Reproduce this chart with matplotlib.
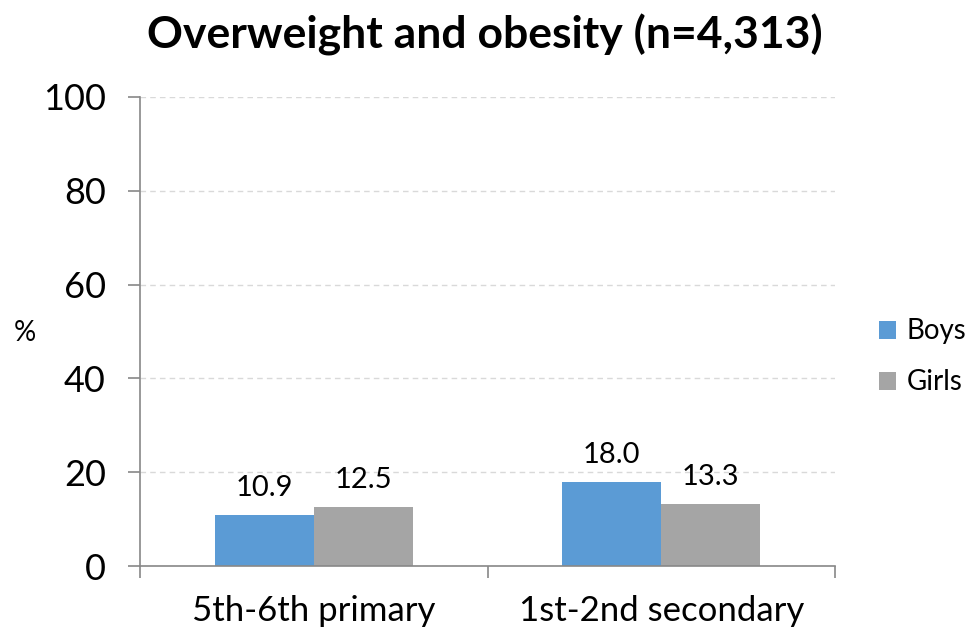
import matplotlib
matplotlib.use("Agg")
import matplotlib.pyplot as plt
import numpy as np

categories = ["5th-6th primary", "1st-2nd secondary"]
boys = [10.9, 18.0]
girls = [12.5, 13.3]
series_names = ["Boys", "Girls"]
yticks = [0, 20, 40, 60, 80, 100]

BLUE = "#5b9bd5"
GREY = "#a5a5a5"

plt.rcParams["font.family"] = ["Lato", "DejaVu Sans"]

fig = plt.figure(figsize=(9.69, 6.31), dpi=100)
ax = fig.add_axes([0.1445, 0.103, 0.7172, 0.7433])

x = np.arange(len(categories))
w = 0.285
b1 = ax.bar(x - w / 2, boys, w, color=BLUE, label=series_names[0])
b2 = ax.bar(x + w / 2, girls, w, color=GREY, label=series_names[1])

for bars, vals in ((b1, boys), (b2, girls)):
    for r, v in zip(bars, vals):
        ax.annotate(f"{v:.1f}", (r.get_x() + r.get_width() / 2, v),
                    xytext=(0, 10), textcoords="offset points",
                    ha="center", va="bottom", fontsize=21)

ax.set_xlim(-0.5, 1.5)
ax.set_ylim(0, 100)
ax.set_yticks(yticks)
ax.tick_params(axis="y", labelsize=26, length=8.6, color="#888888", width=1.2, pad=16)
ax.yaxis.grid(True, linestyle=(0, (4, 3)), color="#d9d9d9", linewidth=1)
ax.set_axisbelow(True)

# category boundaries as ticks, labels centred between them
ax.set_xticks([-0.5, 0.5, 1.5])
ax.set_xticklabels([])
ax.set_xticks(x, minor=True)
ax.set_xticklabels(categories, minor=True, fontsize=25)
ax.tick_params(axis="x", which="major", length=8.6, color="#888888", width=1.2)
ax.tick_params(axis="x", which="minor", length=0, pad=21)

for s in ("top", "right"):
    ax.spines[s].set_visible(False)
for s in ("left", "bottom"):
    ax.spines[s].set_color("#888888")
    ax.spines[s].set_linewidth(1.2)

fig.text(25 / 969, 1 - 333 / 631, "%", fontsize=20, ha="center", va="center")
fig.text(485 / 969, 1 - 35 / 631, "Overweight and obesity (n=4,313)",
         fontsize=32, fontweight="bold", ha="center", va="center")

ax.legend(loc="center left", bbox_to_anchor=(0.907, 1 - 357 / 631), bbox_transform=fig.transFigure,
          frameon=False, fontsize=20, handlelength=0.6, handleheight=0.6,
          handletextpad=0.4, labelspacing=0.9, borderpad=0, borderaxespad=0)

fig.savefig("out.png", dpi=100)
